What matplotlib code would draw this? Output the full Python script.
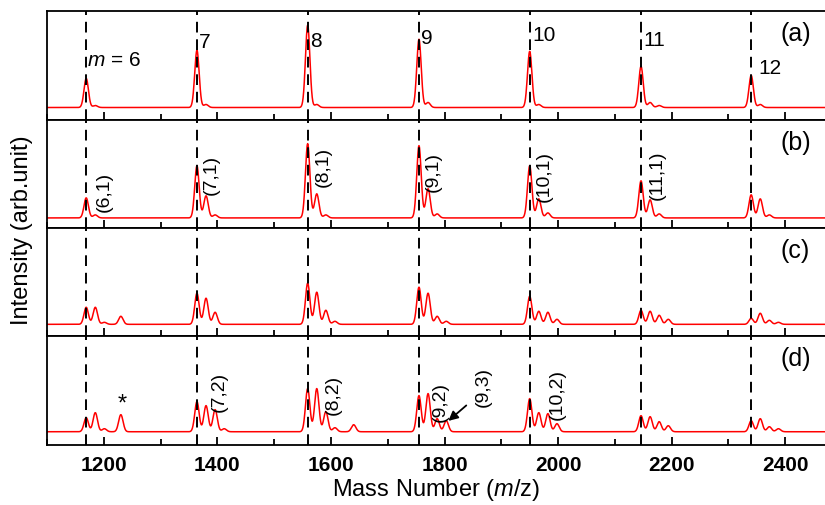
import numpy as np
import matplotlib.pyplot as plt
from matplotlib.ticker import MultipleLocator

plt.rcParams["font.family"] = ["Liberation Sans", "DejaVu Sans"]
plt.rcParams["mathtext.fontset"] = "custom"
plt.rcParams["mathtext.it"] = "Liberation Sans:italic"
plt.rcParams["mathtext.rm"] = "Liberation Sans"

# cluster size m and peak positions of the bare clusters
cluster_m = [6, 7, 8, 9, 10, 11, 12]
peak_mass = [1169, 1364, 1559, 1755, 1950, 2146, 2340]
# satellite offsets (m,0), (m,1), (m,2), (m,3)
sat_offset = [0, 16, 32, 48]

# peak heights above baseline for each panel, one row per cluster
heights_a = [[29, 2, 0, 0], [57, 3, 0, 0], [82, 3, 0, 0], [68, 5, 0, 0],
             [56, 3, 0, 0], [41, 5, 2, 0], [32, 3, 0, 0]]
heights_b = [[20, 3, 0, 0], [52, 22, 3, 0], [74, 24, 3, 0], [72, 29, 4, 0],
             [52, 19, 5, 0], [37, 18, 4, 0], [23, 19, 3, 0]]
heights_c = [[17, 17, 2, 0], [31, 26, 12, 0], [41, 32, 14, 3], [37, 31, 8, 3],
             [28, 13, 12, 5], [14, 13, 9, 5], [6, 11, 4, 2]]
heights_d = [[14, 19, 3, 0], [30, 26, 22, 3], [43, 43, 20, 4], [36, 38, 13, 11],
             [33, 19, 18, 8], [16, 15, 10, 6], [11, 13, 5, 3]]
extra_c = [(1230, 8)]
extra_d = [(1230, 17), (1640, 7)]
baselines = [12, 10, 12, 13]
panel_tags = ["(a)", "(b)", "(c)", "(d)"]

x = np.arange(1100, 2471, 0.5)


def spectrum(heights, extra, base, sigma=3.9):
    """sum of peak profiles on a flat baseline"""
    y = np.full_like(x, float(base))
    for mass, row in zip(peak_mass, heights):
        for off, h in zip(sat_offset, row):
            if h:
                y += h * np.exp(-0.5 * ((x - mass - off) / sigma) ** 2)
    for mass, h in extra:
        y += h * np.exp(-0.5 * ((x - mass) / sigma) ** 2)
    return y


fig, axes = plt.subplots(4, 1, sharex=True, figsize=(8.25, 5.06), dpi=100)
fig.subplots_adjust(left=0.057, right=1.0, top=0.976, bottom=0.119, hspace=0)

data = [(heights_a, []), (heights_b, []), (heights_c, extra_c), (heights_d, extra_d)]
for ax, (h, ex), base, tag in zip(axes, data, baselines, panel_tags):
    ax.plot(x, spectrum(h, ex, base), color="red", lw=1.1)
    for pm in peak_mass:
        ax.axvline(pm, color="black", ls=(0, (5.5, 3.5)), lw=1.4)
    ax.set_xlim(1100, 2470)
    ax.set_ylim(0, 108)
    ax.set_yticks([])
    ax.spines["right"].set_visible(False)
    for s in ax.spines.values():
        s.set_linewidth(1.3)
    ax.xaxis.set_major_locator(MultipleLocator(200))
    ax.xaxis.set_minor_locator(MultipleLocator(100))
    ax.tick_params(axis="x", which="major", direction="in", length=6, width=1.3)
    ax.tick_params(axis="x", which="minor", direction="in", length=4, width=1.3)
    ax.text(2418, 86, tag, fontsize=18, ha="center", va="center")

for lab in axes[-1].get_xticklabels():
    lab.set_fontweight("bold")
axes[-1].tick_params(axis="x", labelsize=15, pad=7)

# panel (a) cluster labels
ax = axes[0]
ax.text(1171, 60, r"$\it{m}$ = 6", fontsize=15, va="center")
label_pos = [(1368, 78, "7"), (1563, 79, "8"), (1759, 82, "9"),
             (1954, 85, "10"), (2150, 80, "11"), (2352, 52, "12")]
for xp, yp, s in label_pos:
    ax.text(xp, yp, s, fontsize=15, va="center")

# panel (b) satellites
for xp, yp, s in [(1200, 37, "(6,1)"), (1390, 54, "(7,1)"), (1586, 62, "(8,1)"),
                  (1780, 57, "(9,1)"), (1976, 52, "(10,1)"), (2174, 54, "(11,1)")]:
    axes[1].text(xp, yp, s, fontsize=14, rotation=90, ha="center", va="center")

# panel (d) satellites
ax = axes[3]
for xp, yp, s in [(1404, 54, "(7,2)"), (1604, 51, "(8,2)"), (1792, 44, "(9,2)"),
                  (1868, 59, "(9,3)"), (1998, 51, "(10,2)")]:
    ax.text(xp, yp, s, fontsize=14, rotation=90, ha="center", va="center")
ax.text(1232, 41, "*", fontsize=17, ha="center", va="center")
ax.annotate("", xy=(1803, 22), xytext=(1842, 41),
            arrowprops=dict(arrowstyle="-|>", color="black", lw=1.3, mutation_scale=14))

axes[-1].set_xlabel(r"Mass Number ($\it{m}$/z)", fontsize=17, labelpad=2)
fig.text(0.027, 0.545, "Intensity (arb.unit)", fontsize=17, rotation=90,
         ha="center", va="center")

fig.savefig("out.png", dpi=100)
